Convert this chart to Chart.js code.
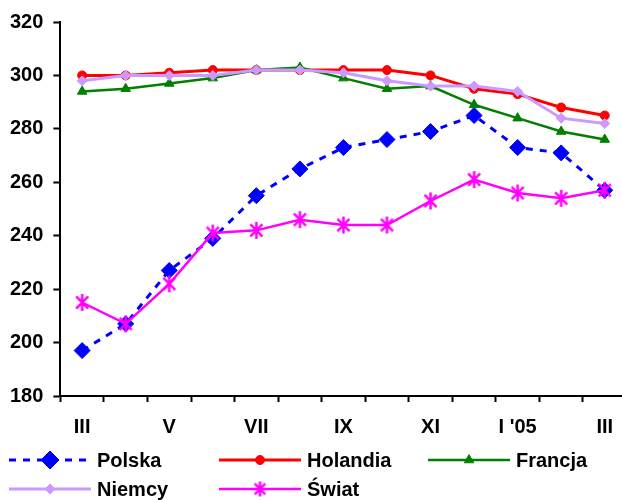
<!DOCTYPE html>
<html>
<head>
<meta charset="utf-8">
<script src="https://cdn.jsdelivr.net/npm/chart.js@4/dist/chart.umd.min.js"></script>
<style>
html,body{margin:0;padding:0;background:#fff;overflow:hidden;width:622px;height:500px;}
#wrap{position:absolute;left:0;top:0;width:638px;height:500px;}
</style>
</head>
<body>
<div id="wrap"><canvas id="c" width="638" height="500"></canvas></div>
<script>
const categories = ['III','IV','V','VI','VII','VIII','IX','X','XI','XII',"I '05",'II','III'];
const polska   = [197,207,227,239,255,265,273,276,279,285,273,271,257];
const holandia = [300,300,301,302,302,302,302,302,300,295,293,288,285];
const francja  = [294,295,297,299,302,303,299,295,296,289,284,279,276];
const niemcy   = [298,300,300,300,302,302,301,298,296,296,294,284,282];
const swiat    = [215,207,222,241,242,246,244,244,253,261,256,254,257];
const seriesNames = ['Polska','Holandia','Francja','Niemcy','Świat'];
const yTicks = [180,200,220,240,260,280,300,320];

function makeStar(size, color, lw){
  const c = document.createElement('canvas');
  c.width = size; c.height = size;
  const g = c.getContext('2d');
  const m = size/2, r = size/2 - 1;
  g.strokeStyle = color; g.lineWidth = lw; g.lineCap = 'butt';
  g.beginPath();
  g.moveTo(m, m - r); g.lineTo(m, m + r);
  const d = r * Math.SQRT1_2;
  g.moveTo(m - d, m - d); g.lineTo(m + d, m + d);
  g.moveTo(m - d, m + d); g.lineTo(m + d, m - d);
  g.stroke();
  return c;
}
const starImg = makeStar(19, '#FF00FF', 2.5);
const starImgSmall = makeStar(17, '#FF00FF', 2.5);

const FONT = "'Liberation Sans', Arial, sans-serif";

const datasets = [
  {label: seriesNames[0], data: polska, borderColor:'#0000FF', backgroundColor:'#0000FF', borderWidth:3, borderDash:[7,7],
   pointStyle:'rectRot', pointRadius:8, pointBorderWidth:1, order:4},
  {label: seriesNames[1], data: holandia, borderColor:'#FF0000', backgroundColor:'#FF0000', borderWidth:3,
   pointStyle:'circle', pointRadius:4.5, pointBorderWidth:1, order:3},
  {label: seriesNames[2], data: francja, borderColor:'#008000', backgroundColor:'#008000', borderWidth:2.5,
   pointStyle:'triangle', pointRadius:5.5, pointBorderWidth:1, order:2},
  {label: seriesNames[3], data: niemcy, borderColor:'#CC99FF', backgroundColor:'#CC99FF', borderWidth:3,
   pointStyle:'rectRot', pointRadius:5, pointBorderWidth:1, order:1},
  {label: seriesNames[4], data: swiat, borderColor:'#FF00FF', backgroundColor:'#FF00FF', borderWidth:2.5,
   pointStyle:starImg, pointRadius:9, order:0}
];
datasets.forEach(d=>{d.tension=0; d.fill=false; d.pointHoverRadius=d.pointRadius;});

const legendPlugin = {
  id:'customLegend',
  afterDraw(chart){
    const ctx = chart.ctx;
    const items = [
      {ds:0, x:9,   y:460},
      {ds:1, x:219, y:460},
      {ds:2, x:428, y:460},
      {ds:3, x:9,   y:489},
      {ds:4, x:219, y:489}
    ];
    items.forEach(it=>{
      const d = chart.data.datasets[it.ds];
      ctx.save();
      ctx.strokeStyle = d.borderColor;
      ctx.lineWidth = d.borderWidth;
      ctx.setLineDash(d.borderDash || []);
      ctx.beginPath();
      ctx.moveTo(it.x, it.y); ctx.lineTo(it.x + 82, it.y);
      ctx.stroke();
      ctx.restore();
      ctx.save();
      ctx.fillStyle = d.backgroundColor;
      ctx.strokeStyle = d.borderColor;
      ctx.lineWidth = 1;
      const style = it.ds === 4 ? starImgSmall : d.pointStyle;
      Chart.helpers.drawPoint(ctx, {pointStyle: style, radius: it.ds===0 ? 9 : d.pointRadius, borderWidth: 1, rotation: 0}, it.x + 41, it.y);
      ctx.restore();
      ctx.save();
      ctx.fillStyle = '#000';
      ctx.font = "bold 20px " + FONT;
      ctx.textBaseline = 'middle';
      ctx.fillText(d.label, it.x + 88, it.y + 1);
      ctx.restore();
    });
  }
};

new Chart(document.getElementById('c'), {
  type:'line',
  data:{labels:categories, datasets:datasets},
  options:{
    responsive:false,
    animation:false,
    devicePixelRatio:1,
    layout:{padding:{left:0, right:4, top:10, bottom:48}},
    plugins:{legend:{display:false}, tooltip:{enabled:false}},
    scales:{
      x:{
        type:'category',
        offset:true,
        border:{display:true, color:'#000', width:2},
        grid:{display:true, drawOnChartArea:false, drawTicks:true, tickLength:6, tickWidth:2, tickColor:'#000', offset:true},
        ticks:{autoSkip:false, maxRotation:0, color:'#000', padding:13,
               font:{family:FONT, size:20, weight:'bold'},
               callback:function(v, i){ return i % 2 === 0 ? categories[i] : ''; }}
      },
      y:{
        min:180, max:320,
        afterBuildTicks:function(axis){ axis.ticks = yTicks.map(v=>({value:v})); },
        border:{display:true, color:'#000', width:2},
        grid:{display:true, drawOnChartArea:false, drawTicks:true, tickLength:7, tickWidth:2, tickColor:'#000'},
        ticks:{color:'#000', padding:10, font:{family:FONT, size:20, weight:'bold'}}
      }
    }
  },
  plugins:[legendPlugin]
});
</script>
</body>
</html>
